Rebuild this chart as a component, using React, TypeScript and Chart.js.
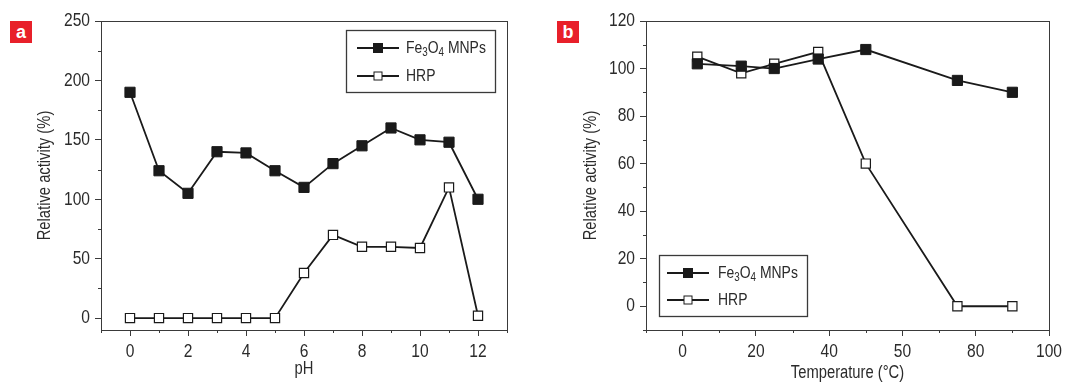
import React, { useEffect, useRef } from "react";
import { Chart, registerables } from "chart.js";

Chart.register(...registerables);

// ---------- Data ----------
const phValues = [0, 1, 2, 3, 4, 5, 6, 7, 8, 9, 10, 11, 12];
const phFe3O4 = [190, 124, 105, 140, 139, 124, 110, 130, 145, 160, 150, 148, 100];
const phHRP = [0, 0, 0, 0, 0, 0, 38, 70, 60, 60, 59, 110, 2];

const tempValues = [4, 16, 25, 37, 50, 75, 90];
const tempFe3O4 = [102, 101, 100, 104, 108, 95, 90];
const tempHRP = [105, 98, 102, 107, 60, 0, 0];

const phXTicks = [0, 2, 4, 6, 8, 10, 12];
const phXMinor = [-1, 1, 3, 5, 7, 9, 11, 13];
const phYTicks = [0, 50, 100, 150, 200, 250];
const phYMinor = [25, 75, 125, 175, 225];

const tempXTicks = [0, 20, 40, 60, 80, 100];
const tempXTickLabels = ["0", "20", "40", "50", "80", "100"];
const tempXMinor = [-10, 10, 30, 50, 70, 90];
const tempYTicks = [0, 20, 40, 60, 80, 100, 120];
const tempYMinor = [-10, 10, 30, 50, 70, 90, 110];

const seriesNames = ["Fe3O4 MNPs", "HRP"];

// ---------- Styles ----------
const FONT = '"Liberation Sans", Arial, sans-serif';
const NARROW = 0.82; // horizontal condensing factor for canvas text
const TEXT = "#2b2b2b";
const AXIS = "#3a3a3a";
const LINE = "#1a1a1a";

type LegendCfg = { x: number; y: number; w: number; h: number; row1: number; row2: number; lineX0: number; lineX1: number; textX: number };

const condensePlugin = {
  id: "condenseText",
  beforeInit(chart: any) {
    const ctx = chart.ctx;
    if (ctx.__condensed) return;
    ctx.__condensed = true;
    const orig = ctx.fillText.bind(ctx);
    ctx.fillText = (text: string, x: number, y: number, maxWidth?: number) => {
      ctx.save();
      ctx.translate(x, y);
      ctx.scale(NARROW, 1);
      if (maxWidth !== undefined) orig(text, 0, 0, maxWidth / NARROW);
      else orig(text, 0, 0);
      ctx.restore();
    };
  },
};

function makePlugins(minorX: number[], minorY: number[], legend: LegendCfg) {
  return [
    condensePlugin,
    {
      id: "frameMinor",
      afterDraw(chart: any) {
        const { ctx, chartArea } = chart;
        const xs = chart.scales.x;
        const ys = chart.scales.y;
        ctx.save();
        ctx.strokeStyle = AXIS;
        ctx.lineWidth = 1;
        ctx.strokeRect(chartArea.left + 0.5, chartArea.top + 0.5, chartArea.right - chartArea.left, chartArea.bottom - chartArea.top);
        ctx.beginPath();
        minorX.forEach((v) => {
          const px = Math.round(xs.getPixelForValue(v)) + 0.5;
          ctx.moveTo(px, chartArea.bottom);
          ctx.lineTo(px, chartArea.bottom + 3);
        });
        minorY.forEach((v) => {
          const py = Math.round(ys.getPixelForValue(v)) + 0.5;
          ctx.moveTo(chartArea.left, py);
          ctx.lineTo(chartArea.left - 3, py);
        });
        ctx.stroke();
        ctx.restore();
      },
    },
    {
      id: "customLegend",
      afterDraw(chart: any) {
        const { ctx } = chart;
        ctx.save();
        ctx.fillStyle = "#ffffff";
        ctx.fillRect(legend.x, legend.y, legend.w, legend.h);
        ctx.strokeStyle = AXIS;
        ctx.lineWidth = 1.3;
        ctx.strokeRect(legend.x + 0.5, legend.y + 0.5, legend.w, legend.h);
        const rows = [legend.row1, legend.row2];
        chart.data.datasets.forEach((ds: any, i: number) => {
          const y = rows[i];
          const mx = (legend.lineX0 + legend.lineX1) / 2;
          ctx.strokeStyle = LINE;
          ctx.lineWidth = 1.8;
          ctx.beginPath();
          ctx.moveTo(legend.lineX0, y);
          ctx.lineTo(legend.lineX1, y);
          ctx.stroke();
          const s = i === 0 ? 4.5 : 4;
          ctx.fillStyle = ds.pointBackgroundColor;
          ctx.fillRect(mx - s, y - s, 2 * s, 2 * s);
          ctx.lineWidth = 1;
          ctx.strokeRect(mx - s, y - s, 2 * s, 2 * s);
          ctx.fillStyle = TEXT;
          ctx.textBaseline = "middle";
          ctx.textAlign = "left";
          const big = "17px " + FONT;
          const small = "12px " + FONT;
          if (i === 0) {
            let x = legend.textX;
            const parts: [string, boolean][] = [["Fe", false], ["3", true], ["O", false], ["4", true], [" MNPs", false]];
            parts.forEach(([t, sub]) => {
              ctx.font = sub ? small : big;
              ctx.fillText(t, x, sub ? y + 5 : y);
              x += ctx.measureText(t).width * NARROW;
            });
          } else {
            ctx.font = big;
            ctx.fillText(ds.label, legend.textX, y);
          }
        });
        ctx.restore();
      },
    },
  ];
}

function makeConfig(opts: {
  xs: number[];
  fe: number[];
  hrp: number[];
  xMin: number;
  xMax: number;
  yMin: number;
  yMax: number;
  xTicks: number[];
  yTicks: number[];
  xLabel: (v: number) => string;
  xTitle: string;
  chartLeft: number;
  chartRight: number;
  yTitlePad: number;
  xTitlePad: number;
  minorX: number[];
  minorY: number[];
  legend: LegendCfg;
}): any {
  const canvasH = 382;
  const top = 21;
  const bottom = 330;
  const datasetBase = {
    borderColor: LINE,
    borderWidth: 1.8,
    pointStyle: "rect",
    pointRadius: 7.2,
    pointBorderColor: LINE,
    pointBorderWidth: 1,
    tension: 0,
    fill: false,
  };
  return {
    type: "line",
    data: {
      datasets: [
        {
          ...datasetBase,
          label: seriesNames[0],
          data: opts.xs.map((x, i) => ({ x, y: opts.fe[i] })),
          pointBackgroundColor: LINE,
        },
        {
          ...datasetBase,
          label: seriesNames[1],
          data: opts.xs.map((x, i) => ({ x, y: opts.hrp[i] })),
          pointBackgroundColor: "#ffffff",
          pointRadius: 6.5,
          pointBorderWidth: 1.2,
        },
      ],
    },
    options: {
      animation: false,
      responsive: false,
      maintainAspectRatio: false,
      layout: { padding: { left: 0, right: opts.chartRight, top, bottom: 0 } },
      plugins: { legend: { display: false }, tooltip: { enabled: false } },
      scales: {
        x: {
          type: "linear",
          min: opts.xMin,
          max: opts.xMax,
          afterBuildTicks: (s: any) => {
            s.ticks = opts.xTicks.map((v) => ({ value: v }));
          },
          afterFit: (s: any) => {
            s.height = canvasH - bottom;
          },
          ticks: {
            color: TEXT,
            font: { family: FONT, size: 19 },
            padding: 4,
            maxRotation: 0,
            autoSkip: false,
            callback: (v: number) => opts.xLabel(v),
          },
          grid: { drawOnChartArea: false, drawTicks: true, tickLength: 6, color: AXIS, tickColor: AXIS, lineWidth: 1 },
          border: { display: true, color: AXIS, width: 1 },
          title: {
            display: true,
            text: opts.xTitle,
            color: TEXT,
            font: { family: FONT, size: 18, lineHeight: 1 },
            padding: { top: 0, bottom: opts.xTitlePad },
          },
        },
        y: {
          type: "linear",
          min: opts.yMin,
          max: opts.yMax,
          afterBuildTicks: (s: any) => {
            s.ticks = opts.yTicks.map((v) => ({ value: v }));
          },
          afterFit: (s: any) => {
            s.width = opts.chartLeft;
          },
          ticks: {
            color: TEXT,
            font: { family: FONT, size: 19 },
            padding: 5,
            callback: (v: number) => String(v),
          },
          grid: { drawOnChartArea: false, drawTicks: true, tickLength: 6, color: AXIS, tickColor: AXIS, lineWidth: 1 },
          border: { display: true, color: AXIS, width: 1 },
          title: {
            display: true,
            text: "Relative activity (%)",
            color: TEXT,
            font: { family: FONT, size: 18, lineHeight: 1 },
            padding: { top: opts.yTitlePad, bottom: 0 },
          },
        },
      },
    },
    plugins: makePlugins(opts.minorX, opts.minorY, opts.legend),
  };
}

function Panel(props: { left: number; width: number; letter: string; config: any }) {
  const ref = useRef<HTMLCanvasElement>(null);
  useEffect(() => {
    if (!ref.current) return;
    const chart = new Chart(ref.current, props.config);
    return () => chart.destroy();
  }, []);
  return (
    <div style={{ position: "absolute", left: props.left, top: 0, width: props.width, height: 382 }}>
      <canvas ref={ref} width={props.width} height={382} style={{ width: props.width, height: 382, display: "block" }} />
      <div
        style={{
          position: "absolute",
          left: props.letter === "a" ? 10 : 17,
          top: 21,
          width: 22,
          height: 22,
          background: "#e8202a",
          color: "#ffffff",
          fontFamily: '"Liberation Sans", Arial, sans-serif',
          fontWeight: "bold",
          fontSize: 18,
          lineHeight: "22px",
          textAlign: "center",
        }}
      >
        {props.letter}
      </div>
    </div>
  );
}

export default function App() {
  const configA = makeConfig({
    xs: phValues,
    fe: phFe3O4,
    hrp: phHRP,
    xMin: -1,
    xMax: 13,
    yMin: -10,
    yMax: 250,
    xTicks: phXTicks,
    yTicks: phYTicks,
    xLabel: (v) => String(v),
    xTitle: "pH",
    chartLeft: 101,
    chartRight: 540 - 507,
    yTitlePad: 36,
    xTitlePad: 4,
    minorX: phXMinor,
    minorY: phYMinor,
    legend: { x: 346, y: 30, w: 149, h: 62, row1: 48, row2: 76, lineX0: 357, lineX1: 399, textX: 406 },
  });
  const configB = makeConfig({
    xs: tempValues,
    fe: tempFe3O4,
    hrp: tempHRP,
    xMin: -10,
    xMax: 100,
    yMin: -10,
    yMax: 120,
    xTicks: tempXTicks,
    yTicks: tempYTicks,
    xLabel: (v) => tempXTickLabels[tempXTicks.indexOf(v)] ?? "",
    xTitle: "Temperature (°C)",
    chartLeft: 106,
    chartRight: 543 - 509,
    yTitlePad: 42,
    xTitlePad: 0,
    minorX: tempXMinor,
    minorY: tempYMinor,
    legend: { x: 119, y: 255, w: 148, h: 61, row1: 273, row2: 300, lineX0: 127, lineX1: 169, textX: 178 },
  });
  return (
    <div style={{ position: "fixed", left: 0, top: 0, width: 1083, height: 382, background: "#ffffff" }}>
      <Panel left={0} width={540} letter="a" config={configA} />
      <Panel left={540} width={543} letter="b" config={configB} />
    </div>
  );
}
